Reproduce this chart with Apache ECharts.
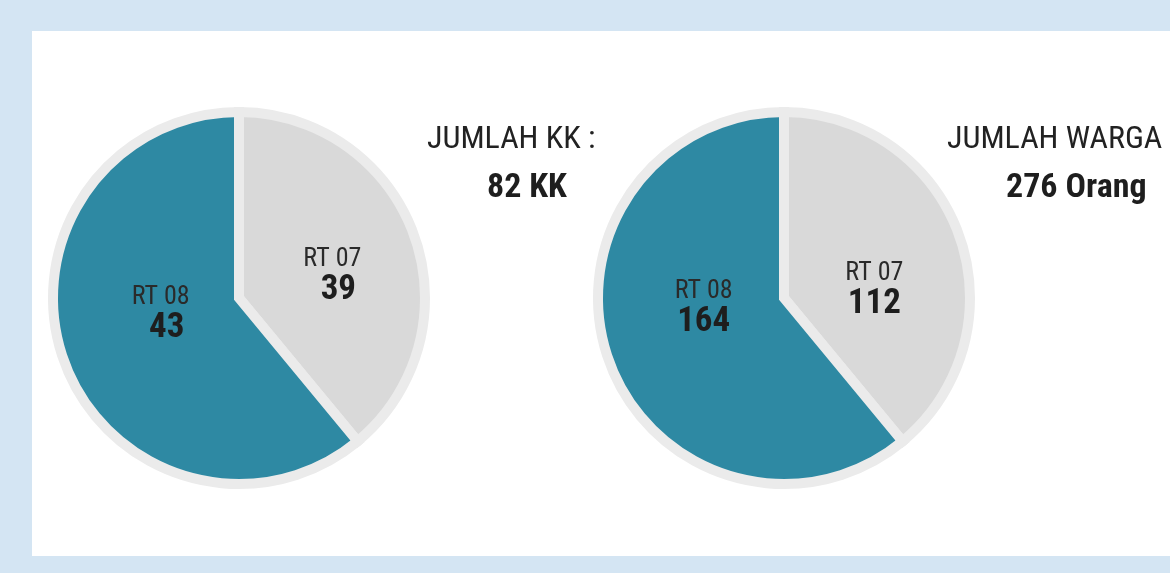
<!DOCTYPE html>
<html>
<head>
<meta charset="utf-8">
<script src="https://cdn.jsdelivr.net/npm/echarts@6/dist/echarts.min.js"></script>
<style>
  html, body { margin:0; padding:0; background:#d4e5f3; }
  #panel { position:absolute; left:32px; top:31px; width:1138px; height:525px; background:#ffffff; }
  #chart { position:absolute; left:0; top:0; width:1170px; height:573px; }
</style>
</head>
<body>
<div id="panel"></div>
<div id="chart"></div>
<script>
// Categories (clockwise from 12 o'clock)
const categories = ['RT 07', 'RT 08'];
// Numbers printed on the chart
const kkCounts = [39, 43];
const wargaCounts = [112, 164];
// Slice sizes as drawn in the picture (share of the circle, %)
const kkSlices = [39.0, 61.0];
const wargaSlices = [39.0, 61.0];
// Headline texts
const kkTitle = 'JUMLAH KK :';
const kkTotal = '82 KK';
const wargaTitle = 'JUMLAH WARGA :';
const wargaTotal = '276 Orang';

const FONT = "'Roboto Condensed','Liberation Sans Narrow','DejaVu Sans Condensed','Arial Narrow',sans-serif";
const colors = ['#d9d9d9', '#2e89a3'];

function pieSeries(center, slices, counts, offsets, numPad) {
  return {
    type: 'pie',
    center: center,
    radius: 186,
    startAngle: 90,
    clockwise: true,
    silent: true,
    animation: false,
    itemStyle: { borderColor: '#ebebeb', borderWidth: 10, borderJoin: 'miter' },
    label: {
      show: true,
      position: 'inside',
      fontFamily: FONT,
      formatter: p => '{a|' + p.name + '}\n{b|' + counts[p.dataIndex] + '}',
      rich: {
        a: { fontFamily: FONT, fontSize: 26, color: '#2a2a2a', lineHeight: 28, align: 'center' },
        b: { fontFamily: FONT, fontSize: 35, fontWeight: 'bold', color: '#1e1e1e', lineHeight: 34, align: 'center', padding: [0, 0, 0, numPad] }
      }
    },
    labelLine: { show: false },
    data: categories.map((c, i) => ({
      name: c,
      value: slices[i],
      itemStyle: { color: colors[i] },
      label: { offset: offsets[i] }
    }))
  };
}

const chart = echarts.init(document.getElementById('chart'), null, { renderer: 'canvas' });
chart.setOption({
  backgroundColor: 'transparent',
  title: [
    { text: kkTitle, left: 422, top: 119, textStyle: { fontFamily: FONT, fontSize: 32, fontWeight: 'normal', color: '#222' } },
    { text: kkTotal, left: 482, top: 166, textStyle: { fontFamily: FONT, fontSize: 34, fontWeight: 'bold', color: '#1e1e1e' } },
    { text: wargaTitle, left: 942, top: 119, textStyle: { fontFamily: FONT, fontSize: 32, fontWeight: 'normal', color: '#222' } },
    { text: wargaTotal, left: 1001, top: 166, textStyle: { fontFamily: FONT, fontSize: 34, fontWeight: 'bold', color: '#1e1e1e' } }
  ],
  series: [
    pieSeries([239, 298], kkSlices, kkCounts, [[3, 11], [12, -16]], 12),
    pieSeries([784, 298], wargaSlices, wargaCounts, [[0, 25], [10, -22]], 0)
  ]
});
</script>
</body>
</html>
